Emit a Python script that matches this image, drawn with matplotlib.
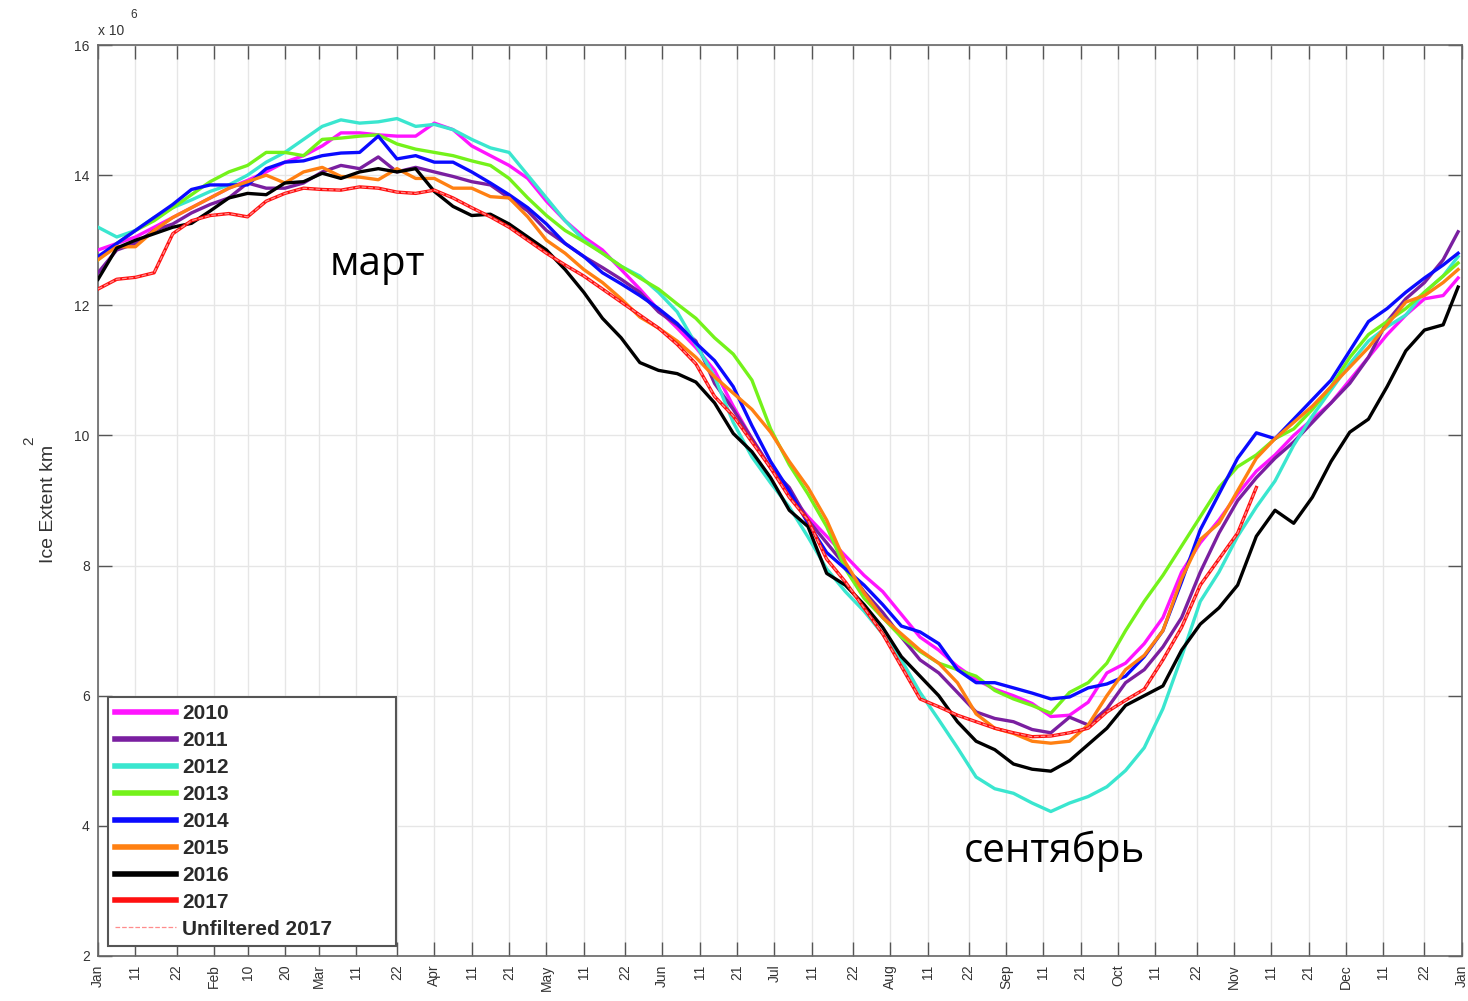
import numpy as np
import matplotlib
matplotlib.use('Agg')
import matplotlib.pyplot as plt

# day of year (0 = Jan 1) at which each extent value is taken
days = list(range(0, 365, 5)) + [364]
days_2017 = list(range(0, 315, 5))

# sea ice extent, millions of km^2
ext_2010 = [12.85, 12.95, 13.05, 13.2, 13.35, 13.5, 13.65, 13.8, 13.92, 14.05, 14.2, 14.3, 14.45, 14.65, 14.65,
            14.62, 14.6, 14.6, 14.8, 14.7, 14.45, 14.3, 14.15, 13.95, 13.6, 13.3, 13.05, 12.85, 12.55, 12.25,
            11.93, 11.65, 11.35, 11.0, 10.45, 9.95, 9.5, 9.1, 8.75, 8.45, 8.15, 7.85, 7.6, 7.25, 6.9,
            6.7, 6.45, 6.25, 6.1, 6.0, 5.88, 5.68, 5.7, 5.9, 6.35, 6.5, 6.8, 7.2, 7.9, 8.35,
            8.7, 9.1, 9.45, 9.7, 10.0, 10.25, 10.5, 10.85, 11.2, 11.55, 11.85, 12.1, 12.15, 12.42]
ext_2011 = [12.5, 12.85, 12.95, 13.15, 13.25, 13.42, 13.55, 13.65, 13.88, 13.8, 13.8, 13.88, 14.05, 14.15, 14.1,
            14.28, 14.05, 14.12, 14.05, 13.98, 13.9, 13.85, 13.65, 13.45, 13.15, 12.95, 12.75, 12.58, 12.4, 12.2,
            11.9, 11.7, 11.45, 10.8, 10.4, 9.95, 9.5, 9.2, 8.7, 8.35, 8.0, 7.6, 7.28, 6.9, 6.55,
            6.35, 6.05, 5.75, 5.65, 5.6, 5.48, 5.43, 5.67, 5.55, 5.8, 6.2, 6.4, 6.75, 7.2, 7.9,
            8.5, 9.0, 9.35, 9.65, 9.9, 10.2, 10.5, 10.8, 11.2, 11.75, 12.1, 12.35, 12.7, 13.13]
ext_2012 = [13.2, 13.05, 13.15, 13.35, 13.5, 13.62, 13.75, 13.85, 14.0, 14.2, 14.35, 14.55, 14.75, 14.85, 14.8,
            14.82, 14.87, 14.75, 14.78, 14.7, 14.55, 14.42, 14.35, 14.0, 13.65, 13.3, 13.0, 12.8, 12.6, 12.45,
            12.2, 11.9, 11.4, 10.9, 10.2, 9.67, 9.27, 8.9, 8.44, 7.95, 7.6, 7.3, 6.95, 6.55, 6.05,
            5.63, 5.2, 4.75, 4.57, 4.5, 4.35, 4.22, 4.35, 4.45, 4.6, 4.85, 5.2, 5.8, 6.6, 7.45,
            7.9, 8.45, 8.9, 9.3, 9.85, 10.3, 10.7, 11.1, 11.45, 11.67, 11.85, 12.2, 12.45, 12.75]
ext_2013 = [12.7, 12.95, 13.15, 13.3, 13.5, 13.7, 13.9, 14.05, 14.15, 14.35, 14.35, 14.3, 14.55, 14.57, 14.6,
            14.62, 14.48, 14.4, 14.35, 14.3, 14.22, 14.15, 13.95, 13.65, 13.38, 13.15, 12.98, 12.8, 12.6, 12.42,
            12.25, 12.02, 11.8, 11.5, 11.25, 10.85, 10.1, 9.55, 9.1, 8.6, 7.95, 7.5, 7.2, 6.9, 6.68,
            6.5, 6.4, 6.3, 6.08, 5.95, 5.85, 5.73, 6.05, 6.2, 6.5, 7.0, 7.45, 7.85, 8.3, 8.75,
            9.2, 9.52, 9.7, 9.95, 10.1, 10.4, 10.75, 11.2, 11.55, 11.75, 11.95, 12.2, 12.45, 12.65]
ext_2014 = [12.75, 12.95, 13.15, 13.35, 13.55, 13.78, 13.85, 13.85, 13.85, 14.1, 14.2, 14.22, 14.3, 14.34, 14.35,
            14.6, 14.25, 14.3, 14.2, 14.2, 14.05, 13.88, 13.7, 13.5, 13.25, 12.95, 12.75, 12.5, 12.33, 12.15,
            11.95, 11.72, 11.42, 11.15, 10.75, 10.15, 9.6, 9.15, 8.65, 8.2, 7.95, 7.7, 7.4, 7.07, 6.98,
            6.8, 6.4, 6.2, 6.2, 6.12, 6.04, 5.95, 5.98, 6.12, 6.18, 6.3, 6.6, 7.0, 7.75, 8.55,
            9.1, 9.65, 10.04, 9.95, 10.25, 10.55, 10.85, 11.3, 11.75, 11.95, 12.2, 12.42, 12.62, 12.8]
ext_2015 = [12.7, 12.9, 12.9, 13.15, 13.35, 13.5, 13.65, 13.8, 13.9, 14.0, 13.88, 14.05, 14.12, 13.98, 13.97,
            13.93, 14.1, 13.95, 13.95, 13.8, 13.8, 13.67, 13.65, 13.36, 13.0, 12.8, 12.55, 12.35, 12.1, 11.82,
            11.65, 11.45, 11.2, 10.9, 10.65, 10.4, 10.05, 9.6, 9.2, 8.7, 8.05, 7.58, 7.2, 6.95, 6.7,
            6.5, 6.2, 5.72, 5.5, 5.42, 5.3, 5.27, 5.3, 5.55, 6.0, 6.4, 6.62, 7.0, 7.8, 8.4,
            8.65, 9.15, 9.65, 9.95, 10.2, 10.45, 10.75, 11.05, 11.35, 11.7, 12.05, 12.15, 12.35, 12.55]
ext_2016 = [12.4, 12.88, 13.0, 13.1, 13.2, 13.26, 13.45, 13.65, 13.72, 13.7, 13.88, 13.9, 14.03, 13.95, 14.05,
            14.1, 14.05, 14.1, 13.75, 13.52, 13.38, 13.4, 13.25, 13.05, 12.85, 12.55, 12.2, 11.8, 11.5, 11.12,
            11.0, 10.95, 10.82, 10.5, 10.03, 9.75, 9.35, 8.85, 8.6, 7.88, 7.7, 7.4, 7.05, 6.6, 6.3,
            6.0, 5.6, 5.3, 5.17, 4.95, 4.87, 4.84, 5.0, 5.25, 5.5, 5.85, 6.0, 6.15, 6.7, 7.1,
            7.35, 7.7, 8.45, 8.85, 8.65, 9.05, 9.6, 10.05, 10.25, 10.75, 11.3, 11.62, 11.7, 12.28]
ext_2017 = [12.25, 12.4, 12.43, 12.5, 13.1, 13.3, 13.38, 13.41, 13.36, 13.6, 13.72, 13.8, 13.78, 13.77, 13.82,
            13.8, 13.74, 13.72, 13.77, 13.65, 13.5, 13.36, 13.2, 13.0, 12.8, 12.62, 12.45, 12.25, 12.05, 11.85,
            11.65, 11.4, 11.1, 10.6, 10.3, 9.9, 9.5, 9.05, 8.7, 8.1, 7.75, 7.35, 6.95, 6.45, 5.95,
            5.83, 5.7, 5.6, 5.5, 5.43, 5.37, 5.38, 5.43, 5.5, 5.75, 5.93, 6.1, 6.55, 7.05, 7.7,
            8.1, 8.5, 9.2]

years = ['2010', '2011', '2012', '2013', '2014', '2015', '2016', '2017']
series = [ext_2010, ext_2011, ext_2012, ext_2013, ext_2014, ext_2015, ext_2016, ext_2017]
colors = ['#ff14ff', '#7a1fa0', '#3ae6cf', '#74f21a', '#0a0aff', '#ff8012', '#000000', '#ff1010']

# x axis: month starts plus the mid-month ticks
month_names = ['Jan', 'Feb', 'Mar', 'Apr', 'May', 'Jun', 'Jul', 'Aug', 'Sep', 'Oct', 'Nov', 'Dec']
month_start = [0, 31, 59, 90, 120, 151, 181, 212, 243, 273, 304, 334]
mid_days = [[11, 22], [10, 20], [11, 22], [11, 21], [11, 22], [11, 21],
            [11, 22], [11, 22], [11, 21], [11, 22], [11, 21], [11, 22]]

tick_pos, tick_lab = [], []
for name, start, mids in zip(month_names, month_start, mid_days):
    tick_pos.append(start)
    tick_lab.append(name)
    for d in mids:
        tick_pos.append(start + d - 1)
        tick_lab.append(str(d))
tick_pos.append(365)
tick_lab.append('Jan')

plt.rcParams['font.family'] = ['Liberation Sans', 'DejaVu Sans']

fig = plt.figure(figsize=(14.68, 10.01), dpi=100)
ax = fig.add_axes([0.0668, 0.045, 0.929, 0.910])

for yr, vals, c in zip(years, series, colors):
    d = days_2017 if yr == '2017' else days
    ax.plot(d, vals, color=c, linewidth=2.4, label=yr, zorder=3)
ax.plot(days_2017, ext_2017, color='#ff8c8c', linewidth=0.9, linestyle='--',
        label='Unfiltered 2017', zorder=4)

ax.set_xlim(0, 365)
ax.set_ylim(2, 16)
ax.set_xticks(tick_pos)
ax.set_xticklabels(tick_lab, rotation=90, fontsize=10, color='#333333')
ax.set_yticks(range(2, 17, 2))
ax.set_yticklabels([str(v) for v in range(2, 17, 2)], fontsize=10, color='#333333')
ax.tick_params(direction='in', length=10, width=1.0, color='#555555',
               top=True, right=True, pad=6)
ax.grid(True, color='#e6e6e6', linewidth=1.0, zorder=0)
ax.set_axisbelow(True)
for sp in ax.spines.values():
    sp.set_color('#666666')
    sp.set_linewidth(1.2)

# axis scale and label
fig.text(0.0668, 0.962, 'x 10', fontsize=10, color='#333333', ha='left', va='bottom')
fig.text(0.0885, 0.979, '6', fontsize=8.5, color='#333333', ha='left', va='bottom')
fig.text(0.033, 0.497, 'Ice Extent km', rotation=90, fontsize=14, color='#333333',
         ha='center', va='center')
fig.text(0.020, 0.56, '2', rotation=90, fontsize=11, color='#333333', ha='center', va='center')

# month notes
ax.text(74.7, 12.47, 'март', fontsize=29, family='Open Sans', ha='center', va='baseline')
ax.text(256, 3.44, 'сентябрь', fontsize=29, family='Open Sans', ha='center', va='baseline')

leg = ax.legend(loc='lower left', bbox_to_anchor=(0.0073, 0.011, 0.211, 0.27), mode='expand',
                borderaxespad=0, prop={'size': 15, 'weight': 'bold'},
                handlelength=2.9, handletextpad=0.3, labelspacing=0.38,
                borderpad=0.35, fancybox=False, framealpha=1, edgecolor='#555555')
leg.get_frame().set_linewidth(1.5)
for line in leg.get_lines()[:-1]:
    line.set_linewidth(4)
for t in leg.get_texts():
    t.set_color('#2a2a2a')

fig.savefig('out.png', dpi=100)
